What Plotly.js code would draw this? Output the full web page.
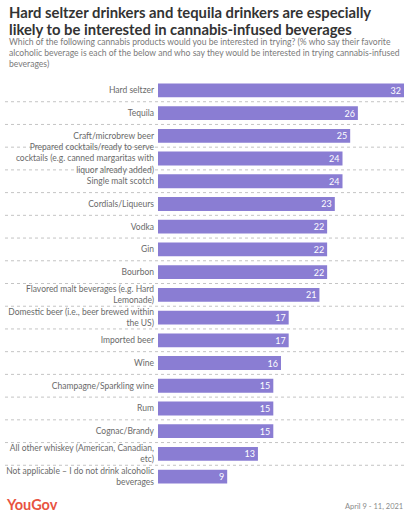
<!DOCTYPE html>
<html>
<head>
<meta charset="utf-8">
<script src="https://cdn.plot.ly/plotly-3.0.1.min.js"></script>
<style>html,body{margin:0;padding:0;background:#fff;}#chart{width:413px;height:517px;}</style>
</head>
<body>
<div id="chart"></div>
<script>
const categories = [
  "Hard seltzer",
  "Tequila",
  "Craft/microbrew beer",
  "Prepared cocktails/ready to serve<br>cocktails (e.g. canned margaritas with<br>liquor already added)",
  "Single malt scotch",
  "Cordials/Liqueurs",
  "Vodka",
  "Gin",
  "Bourbon",
  "Flavored malt beverages (e.g. Hard<br>Lemonade)",
  "Domestic beer (i.e., beer brewed within<br>the US)",
  "Imported beer",
  "Wine",
  "Champagne/Sparkling wine",
  "Rum",
  "Cognac/Brandy",
  "All other whiskey (American, Canadian,<br>etc)",
  "Not applicable – I do not drink alcoholic<br>beverages"
];
const values = [32, 26, 25, 24, 24, 23, 22, 22, 22, 21, 17, 17, 16, 15, 15, 15, 13, 9];

const titleLines = [
  "Hard seltzer drinkers and tequila drinkers are especially",
  "likely to be interested in cannabis-infused beverages"
];
const subtitle = "Which of the following cannabis products would you be interested in trying? (% who say their favorite<br>alcoholic beverage is each of the below and who say they would be interested in trying cannabis-infused<br>beverages)";
const source = "YouGov";
const dateText = "April 9 - 11, 2021";

const W = 413, H = 517, L = 158, R = 9, T = 79, B = 29;
const pw = W - L - R, ph = H - T - B;
const px = x => (x - L) / pw;
const py = y => (H - B - y) / ph;

const font = "Lato, 'Open Sans', sans-serif";

const trace = {
  type: 'bar',
  orientation: 'h',
  y: categories,
  x: values,
  marker: {color: '#8a7dd3'},
  text: values.map(String),
  textposition: 'inside',
  insidetextanchor: 'end',
  textangle: 0,
  constraintext: 'none',
  textfont: {color: '#ffffff', size: 9, family: font},
  hoverinfo: 'skip'
};

const shapes = [];
for (let i = 0; i < categories.length - 1; i++) {
  shapes.push({
    type: 'line', xref: 'paper', yref: 'y',
    x0: px(5), x1: 1, y0: i + 0.5, y1: i + 0.5,
    line: {color: '#c4c4c4', width: 1, dash: 'dot'},
    layer: 'below'
  });
}

const annotations = [
  {text: '<b>' + titleLines[0] + '</b>', x: px(7), y: py(11.5), xref: 'paper', yref: 'paper', xanchor: 'left', yanchor: 'middle', showarrow: false, font: {size: 14.8, color: '#333333', family: font}},
  {text: '<b>' + titleLines[1] + '</b>', x: px(7), y: py(29), xref: 'paper', yref: 'paper', xanchor: 'left', yanchor: 'middle', showarrow: false, font: {size: 14.8, color: '#333333', family: font}},
  {text: subtitle, x: px(7), y: py(53.5), xref: 'paper', yref: 'paper', xanchor: 'left', yanchor: 'middle', align: 'left', showarrow: false, font: {size: 8.6, color: '#7a7a7a', family: font}},
  {text: '<b>' + source + '</b>', x: px(4), y: py(504), xref: 'paper', yref: 'paper', xanchor: 'left', yanchor: 'middle', showarrow: false, font: {size: 14.5, color: '#e8533f', family: font}},
  {text: dateText, x: px(405), y: py(506), xref: 'paper', yref: 'paper', xanchor: 'right', yanchor: 'middle', showarrow: false, font: {size: 7.5, color: '#8a8a8a', family: font}}
];

const layout = {
  width: W, height: H,
  margin: {l: L, r: R, t: T, b: B, pad: 0},
  paper_bgcolor: '#ffffff', plot_bgcolor: '#ffffff',
  showlegend: false,
  bargap: 0.39,
  font: {family: font},
  xaxis: {range: [0, 32], visible: false, fixedrange: true},
  yaxis: {
    autorange: 'reversed', type: 'category',
    showgrid: false, zeroline: false, showline: false,
    ticks: '', ticklabelstandoff: 3,
    tickfont: {size: 8.5, color: '#6a6a6a', family: font},
    fixedrange: true
  },
  shapes: shapes,
  annotations: annotations
};

Plotly.newPlot('chart', [trace], layout, {displayModeBar: false, staticPlot: true});
</script>
</body>
</html>
